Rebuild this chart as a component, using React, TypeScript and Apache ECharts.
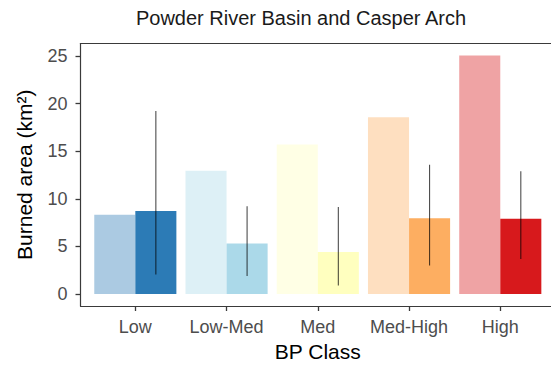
import React, { useEffect, useRef } from "react";
import * as echarts from "echarts";

const categories = ["Low", "Low-Med", "Med", "Med-High", "High"];
const expectedArea = [8.34, 12.95, 15.72, 18.58, 25.07];
const observedArea = [8.73, 5.3, 4.43, 7.96, 7.92];
const errLow = [2.06, 1.89, 0.9, 3.0, 3.67];
const errHigh = [19.24, 9.22, 9.15, 13.58, 12.89];
const classColors = ["#2c7bb6", "#abd9e9", "#ffffbf", "#fdae61", "#d7191c"];
const yTicks = [0, 5, 10, 15, 20, 25];

const FONT = "'Liberation Sans', Arial, Helvetica, sans-serif";
const Y_MIN = -1.254;
const Y_MAX = 26.32;
const CHART_W = 570;
const FRAME = "#3a3a3a";

export default function App() {
  const ref = useRef<HTMLDivElement>(null);
  useEffect(() => {
    if (!ref.current) return;
    const chart = echarts.init(ref.current, undefined, { renderer: "svg" });
    const frameLine = { show: true, onZero: false, lineStyle: { color: FRAME, width: 1.2 } };
    const option: any = {
      animation: false,
      textStyle: { fontFamily: FONT },
      graphic: [
        {
          type: "text",
          x: 301,
          y: 17.5,
          style: {
            text: "Powder River Basin and Casper Arch",
            fontSize: 20,
            fontFamily: FONT,
            fill: "#1a1a1a",
            align: "center",
            verticalAlign: "middle",
          },
        },
      ],
      grid: [
        {
          left: 80.5,
          right: CHART_W - 555,
          top: 43.5,
          bottom: 60,
          show: false,
          containLabel: false,
          outerBoundsMode: "none",
        },
        {
          left: 89.7,
          right: CHART_W - 545.9,
          top: 43.5,
          bottom: 60,
          show: false,
          containLabel: false,
          outerBoundsMode: "none",
        },
      ],
      xAxis: [
        {
          type: "value",
          gridIndex: 0,
          position: "bottom",
          min: 0,
          max: 1,
          axisLine: frameLine,
          axisTick: { show: false },
          axisLabel: { show: false },
          splitLine: { show: false },
        },
        {
          type: "value",
          gridIndex: 0,
          position: "top",
          min: 0,
          max: 1,
          axisLine: frameLine,
          axisTick: { show: false },
          axisLabel: { show: false },
          splitLine: { show: false },
        },
        {
          type: "category",
          gridIndex: 1,
          position: "bottom",
          data: categories,
          axisLine: frameLine,
          axisTick: {
            show: true,
            alignWithLabel: true,
            interval: 0,
            length: 5,
            lineStyle: { color: FRAME, width: 1.3 },
          },
          axisLabel: {
            show: true,
            fontSize: 18,
            color: "#4d4d4d",
            margin: 12,
            interval: 0,
            fontFamily: FONT,
          },
          name: "BP Class",
          nameLocation: "middle",
          nameGap: 35,
          nameTextStyle: { fontSize: 21, color: "#000000", fontFamily: FONT },
          splitLine: { show: false },
        },
      ],
      yAxis: [
        {
          type: "value",
          gridIndex: 0,
          position: "left",
          min: Y_MIN,
          max: Y_MAX,
          axisLine: frameLine,
          axisTick: {
            show: true,
            length: 5,
            customValues: yTicks,
            lineStyle: { color: FRAME, width: 1.3 },
          },
          axisLabel: {
            fontSize: 18,
            color: "#4d4d4d",
            margin: 13,
            customValues: yTicks,
            fontFamily: FONT,
          },
          splitLine: { show: false },
          name: "Burned area (km²)",
          nameLocation: "middle",
          nameGap: 46,
          nameTextStyle: { fontSize: 21, color: "#000000", fontFamily: FONT },
        },
        {
          type: "value",
          gridIndex: 1,
          min: Y_MIN,
          max: Y_MAX,
          show: false,
          splitLine: { show: false },
        },
      ],
      series: [
        {
          type: "bar",
          xAxisIndex: 2,
          yAxisIndex: 1,
          barWidth: "45%",
          barGap: "0%",
          data: expectedArea.map((v, i) => ({
            value: v,
            itemStyle: { color: classColors[i], opacity: 0.4 },
          })),
        },
        {
          type: "bar",
          xAxisIndex: 2,
          yAxisIndex: 1,
          barWidth: "45%",
          barGap: "0%",
          data: observedArea.map((v, i) => ({
            value: v,
            itemStyle: { color: classColors[i] },
          })),
        },
        {
          type: "custom",
          xAxisIndex: 2,
          yAxisIndex: 1,
          z: 5,
          encode: { x: 0, y: [1, 2] },
          data: categories.map((_, i) => [i, errLow[i], errHigh[i]]),
          renderItem: (params: any, api: any) => {
            const idx = api.value(0);
            const top = api.coord([idx, api.value(2)]);
            const bottom = api.coord([idx, api.value(1)]);
            const band = api.size([1, 0])[0];
            const x = top[0] + band * 0.225;
            return {
              type: "line",
              shape: { x1: x, y1: top[1], x2: x, y2: bottom[1] },
              style: { stroke: "rgba(0,0,0,0.7)", lineWidth: 1.1 },
            };
          },
        },
      ],
    };
    chart.setOption(option);
    return () => chart.dispose();
  }, []);
  return (
    <div
      style={{
        position: "fixed",
        left: 0,
        top: 0,
        width: 551,
        height: 366,
        overflow: "hidden",
        background: "#ffffff",
      }}
    >
      <div ref={ref} style={{ width: CHART_W, height: 366 }} />
    </div>
  );
}
